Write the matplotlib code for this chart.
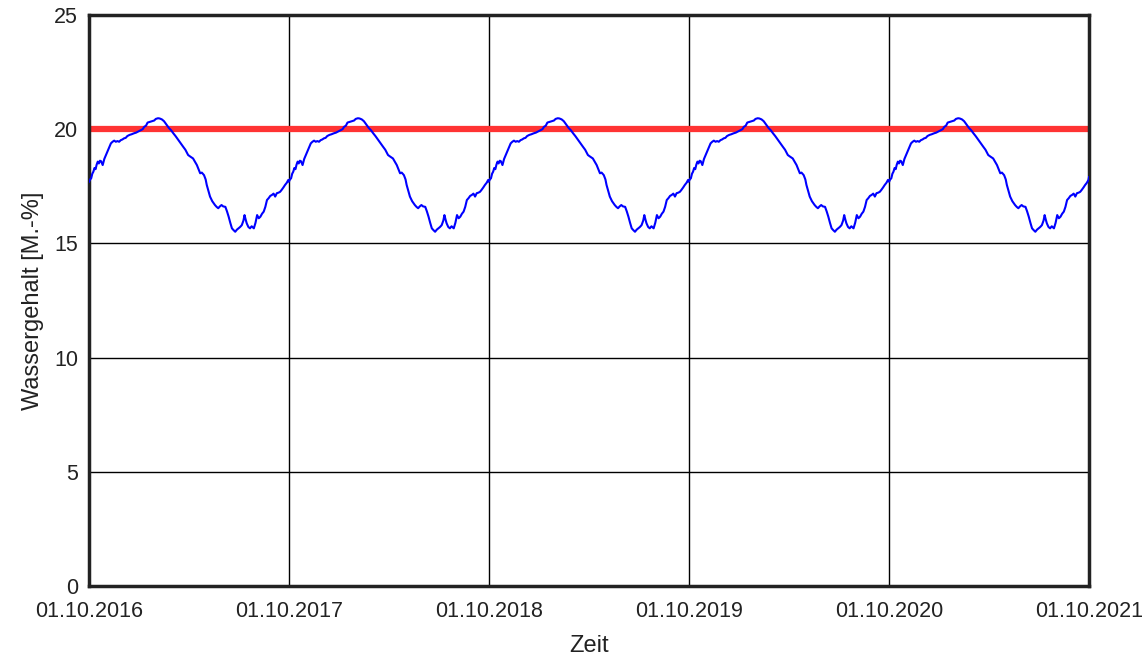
import matplotlib
matplotlib.use("Agg")
import matplotlib.pyplot as plt
import pandas as pd

# One hydrological year (days after 01.10) of water content;
# the reference shows the same course in each of the five years.
day_offsets = [0, 2, 4, 6, 8, 10, 12, 14, 16, 18, 20, 22, 25, 28, 31, 34, 37, 40, 43, 46,
               49, 52, 55, 58, 61, 64, 67, 70, 74, 78, 82, 86, 90, 94, 98, 101, 104, 107, 111, 115,
               119, 122, 126, 129, 133, 137, 142, 146, 150, 154, 158, 163, 167, 172, 176, 181, 185, 190, 194, 197,
               200, 203, 206, 210, 213, 215, 218, 221, 225, 230, 233, 236, 239, 242, 245, 249, 252, 255, 258, 261,
               264, 267, 270, 273, 276, 279, 282, 284, 286, 288, 291, 294, 297, 301, 304, 307, 310, 313, 316, 319,
               322, 325, 328, 331, 334, 337, 340, 343, 346, 349, 352, 355, 358, 361, 364]
year_values = [17.70, 17.80, 17.85, 18.05, 18.14, 18.30, 18.25, 18.45, 18.58, 18.50, 18.62, 18.60, 18.43, 18.70, 18.87, 19.05, 19.20, 19.38, 19.45, 19.50,
               19.45, 19.48, 19.45, 19.52, 19.55, 19.60, 19.62, 19.70, 19.75, 19.78, 19.82, 19.85, 19.90, 19.95, 20.00, 20.11, 20.15, 20.29, 20.32, 20.35,
               20.38, 20.45, 20.48, 20.47, 20.43, 20.35, 20.18, 20.05, 19.95, 19.82, 19.70, 19.53, 19.40, 19.23, 19.10, 18.87, 18.80, 18.72, 18.55, 18.43,
               18.25, 18.07, 18.10, 17.99, 17.80, 17.56, 17.30, 17.05, 16.85, 16.68, 16.60, 16.54, 16.62, 16.68, 16.62, 16.60, 16.40, 16.17, 15.90, 15.66,
               15.58, 15.51, 15.60, 15.66, 15.72, 15.80, 16.00, 16.24, 16.05, 15.88, 15.72, 15.66, 15.75, 15.66, 15.90, 16.24, 16.10, 16.17, 16.30, 16.39,
               16.60, 16.90, 16.98, 17.08, 17.12, 17.18, 17.05, 17.20, 17.22, 17.26, 17.35, 17.45, 17.56, 17.65, 17.78]
years = [2016, 2017, 2018, 2019, 2020]
end_value = 17.9
limit_value = 20.0
tick_labels = ["01.10.2016", "01.10.2017", "01.10.2018", "01.10.2019", "01.10.2020", "01.10.2021"]
y_ticks = [0, 5, 10, 15, 20, 25]

dates = []
values = []
for y in years:
    start = pd.Timestamp(f"{y}-10-01")
    for d, v in zip(day_offsets, year_values):
        dates.append(start + pd.Timedelta(days=d))
        values.append(v)
dates.append(pd.Timestamp("2021-10-01"))
values.append(end_value)

plt.rcParams['font.family'] = ['Liberation Sans', 'DejaVu Sans']
fig = plt.figure(figsize=(11.46, 6.57), dpi=100)
ax = fig.add_axes([89/1146, 1-586/657, 1000/1146, 571/657])

tick_dates = [pd.to_datetime(t, format="%d.%m.%Y") for t in tick_labels]
ax.set_xlim(tick_dates[0], tick_dates[-1])
ax.set_ylim(0, 25)
ax.set_xticks(tick_dates)
ax.set_xticklabels(tick_labels)
ax.set_yticks(y_ticks)
ax.grid(True, color="black", linewidth=1.0)
ax.set_axisbelow(True)

ax.plot(dates, values, color="#0000ff", linewidth=1.5, zorder=3)
ax.axhline(limit_value, color="#ff3333", linewidth=4.5, zorder=2)

for s in ax.spines.values():
    s.set_linewidth(2.5)
    s.set_color("#222222")
ax.tick_params(length=0, labelsize=15.5, colors="#222222")
ax.tick_params(axis="x", pad=11)
ax.tick_params(axis="y", pad=8)
ax.set_xlabel("Zeit", fontsize=17, color="#222222", labelpad=9)
ax.set_ylabel("Wassergehalt [M.-%]", fontsize=17, color="#222222", labelpad=7)

fig.savefig("out.png", dpi=100)
